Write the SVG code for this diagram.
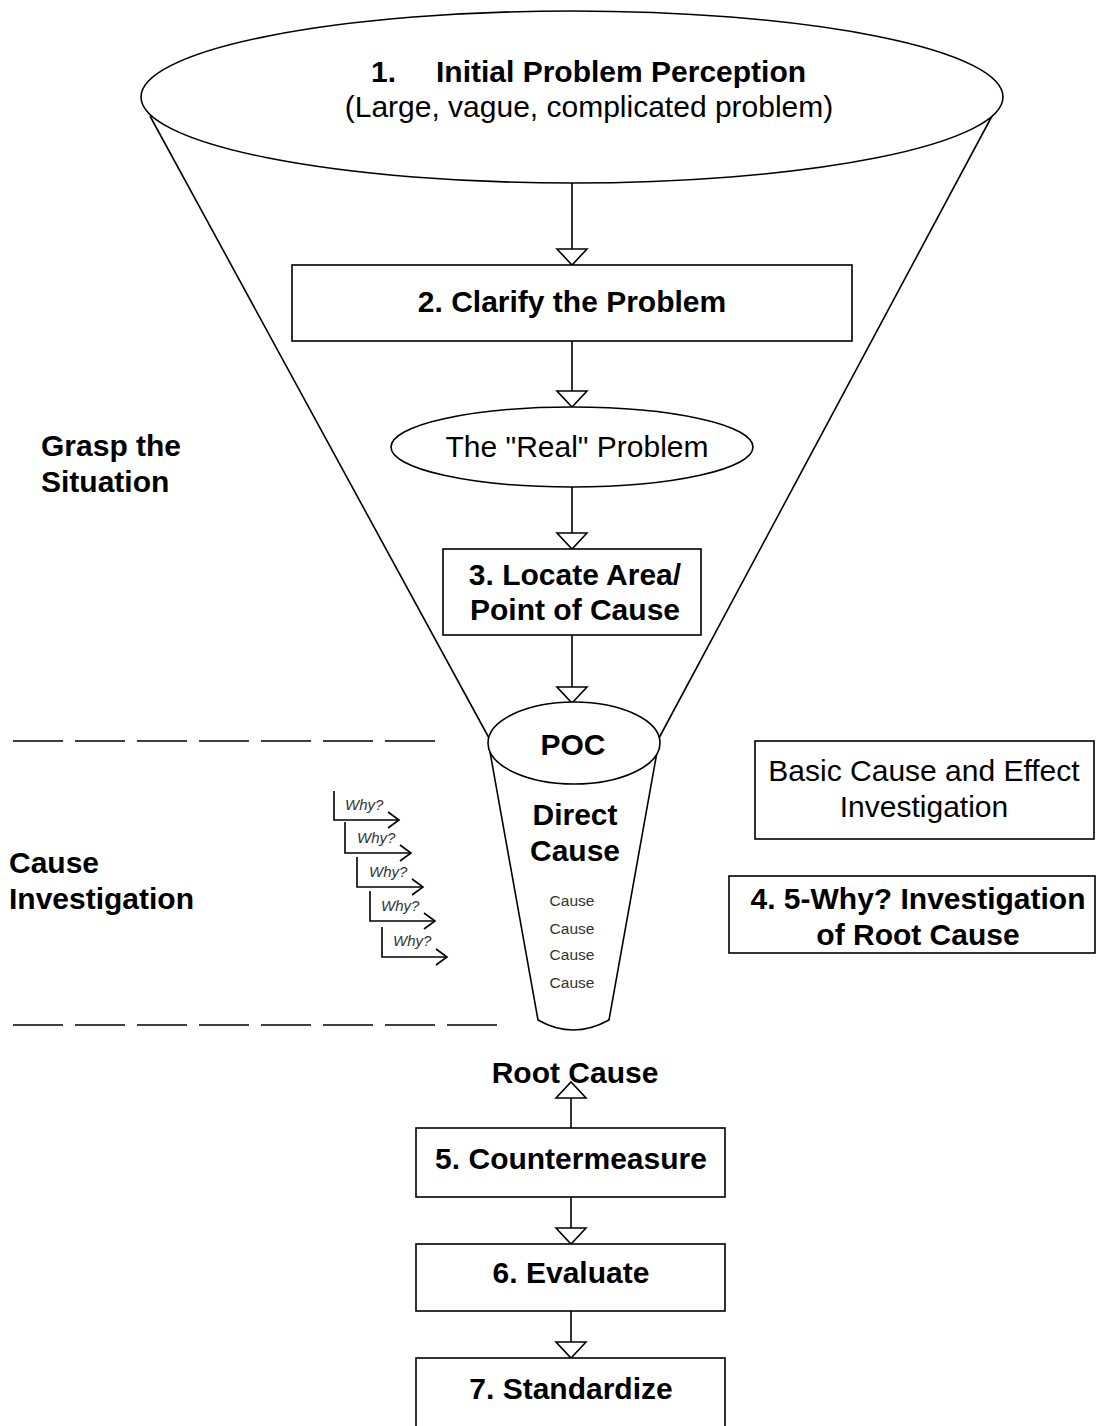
<svg xmlns="http://www.w3.org/2000/svg" width="1096" height="1426" viewBox="0 0 1096 1426">
<style>
.s{fill:none;stroke:#000;stroke-width:1.6}
.w{fill:#fff;stroke:#000;stroke-width:1.6}
.b{font-family:"Liberation Sans",Arial,sans-serif;font-weight:bold;font-size:30px;fill:#000}
.n{font-family:"Liberation Sans",Arial,sans-serif;font-size:30px;fill:#000}
.c{font-family:"Liberation Sans",Arial,sans-serif;font-size:15.5px;fill:#333}
.y{font-family:"Liberation Sans",Arial,sans-serif;font-style:italic;font-size:15px;fill:#333}
.d{fill:none;stroke:#000;stroke-width:1.6;stroke-dasharray:50 12}
.m{text-anchor:middle}
</style>
<defs>
<marker id="tri" markerUnits="userSpaceOnUse" markerWidth="20" markerHeight="34" refX="16" refY="16" orient="auto" viewBox="-1 -1 20 34">
<path d="M0,1 L16,16 L0,31 Z" fill="#fff" stroke="#000" stroke-width="1.6"/>
</marker>
<marker id="chev" markerUnits="userSpaceOnUse" markerWidth="14" markerHeight="18" refX="11" refY="8" orient="auto" viewBox="-1 -1 14 18">
<path d="M0,0 L11,8 L0,16" fill="none" stroke="#000" stroke-width="1.6"/>
</marker>
</defs>
<rect width="1096" height="1426" fill="#fff"/>

<g id="funnel">
<line class="s" x1="150" y1="116" x2="489" y2="738"/>
<line class="s" x1="992" y1="116" x2="659" y2="738"/>
<path class="s" d="M490,752 L538,1020 Q573,1040 609,1020 L657,752"/>
</g>

<g id="connectors">
<line class="s" x1="572" y1="183" x2="572" y2="265" marker-end="url(#tri)"/>
<line class="s" x1="572" y1="341" x2="572" y2="407" marker-end="url(#tri)"/>
<line class="s" x1="572" y1="487" x2="572" y2="549" marker-end="url(#tri)"/>
<line class="s" x1="572" y1="635" x2="572" y2="703" marker-end="url(#tri)"/>
<line class="s" x1="571" y1="1128" x2="571" y2="1082" marker-end="url(#tri)"/>
<line class="s" x1="571" y1="1197" x2="571" y2="1244" marker-end="url(#tri)"/>
<line class="s" x1="571" y1="1311" x2="571" y2="1358" marker-end="url(#tri)"/>
</g>

<g id="n1">
<ellipse class="w" cx="572" cy="97" rx="431" ry="86"/>
<text class="b" x="371" y="82">1.</text>
<text class="b" x="436" y="82">Initial Problem Perception</text>
<text class="n m" x="589" y="117">(Large, vague, complicated problem)</text>
</g>

<g id="n2">
<rect class="w" x="292" y="265" width="560" height="76"/>
<text class="b m" x="572" y="312">2. Clarify the Problem</text>
</g>

<g id="real">
<ellipse class="w" cx="572" cy="447" rx="181" ry="40"/>
<text class="n m" x="577" y="457">The "Real" Problem</text>
</g>

<g id="n3">
<rect class="w" x="443" y="549" width="258" height="86"/>
<text class="b m" x="575" y="585">3. Locate Area/</text>
<text class="b m" x="575" y="620">Point of Cause</text>
</g>

<g id="poc">
<ellipse class="w" cx="574" cy="743" rx="86" ry="41"/>
<text class="b m" x="573" y="755">POC</text>
</g>

<g id="direct">
<text class="b m" x="575" y="825">Direct</text>
<text class="b m" x="575" y="861">Cause</text>
<text class="c m" x="572" y="906">Cause</text>
<text class="c m" x="572" y="934">Cause</text>
<text class="c m" x="572" y="960">Cause</text>
<text class="c m" x="572" y="988">Cause</text>
</g>

<g id="dividers">
<line class="d" x1="13" y1="741" x2="443" y2="741"/>
<line class="d" x1="13" y1="1025" x2="497" y2="1025"/>
</g>

<g id="grasp">
<text class="b" x="41" y="456">Grasp the</text>
<text class="b" x="41" y="492">Situation</text>
</g>

<g id="causeinv">
<text class="b" x="9" y="873">Cause</text>
<text class="b" x="9" y="909">Investigation</text>
</g>

<g id="whys">
<path class="s" d="M334,791 V820 H399" marker-end="url(#chev)"/>
<text class="y" x="345" y="810">Why?</text>
<path class="s" d="M345,822 V853 H411" marker-end="url(#chev)"/>
<text class="y" x="357" y="843">Why?</text>
<path class="s" d="M357,857 V887 H423" marker-end="url(#chev)"/>
<text class="y" x="369" y="877">Why?</text>
<path class="s" d="M370,891 V921 H435" marker-end="url(#chev)"/>
<text class="y" x="381" y="911">Why?</text>
<path class="s" d="M382,927 V957 H447" marker-end="url(#chev)"/>
<text class="y" x="393" y="946">Why?</text>
</g>

<g id="basic">
<rect class="w" x="755" y="741" width="339" height="98"/>
<text class="n m" x="924" y="781">Basic Cause and Effect</text>
<text class="n m" x="924" y="817">Investigation</text>
</g>

<g id="n4">
<rect class="w" x="729" y="876" width="366" height="77"/>
<text class="b m" x="918" y="909">4. 5-Why? Investigation</text>
<text class="b m" x="918" y="945">of Root Cause</text>
</g>

<g id="root">
<text class="b m" x="575" y="1083">Root Cause</text>
</g>

<g id="n5">
<rect class="w" x="416" y="1128" width="309" height="69"/>
<text class="b m" x="571" y="1169">5. Countermeasure</text>
</g>

<g id="n6">
<rect class="w" x="416" y="1244" width="309" height="67"/>
<text class="b m" x="571" y="1283">6. Evaluate</text>
</g>

<g id="n7">
<rect class="w" x="416" y="1358" width="309" height="80"/>
<text class="b m" x="571" y="1399">7. Standardize</text>
</g>
</svg>
